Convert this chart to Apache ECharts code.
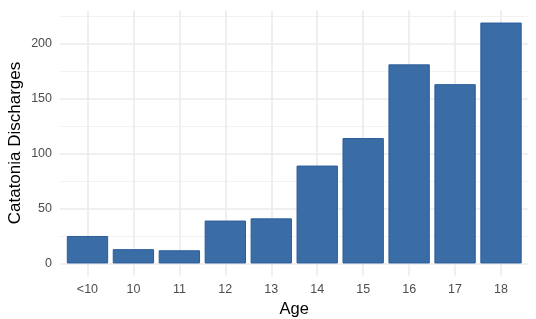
<!DOCTYPE html>
<html>
<head>
<meta charset="utf-8">
<script src="https://cdn.jsdelivr.net/npm/echarts@6/dist/echarts.min.js"></script>
<style>html,body{margin:0;padding:0;background:#fff}#c{width:536px;height:319px}</style>
</head>
<body>
<div id="c"></div>
<script>
const categories = ['<10', '10', '11', '12', '13', '14', '15', '16', '17', '18'];
const discharges = [25, 13, 12, 39, 41, 89, 114, 181, 163, 219];
const yTickStep = 50;
const yMin = -10.95, yMax = 229.95;      // panel range (with ggplot-style padding)
const gridMax = 250;                     // gridline axis: 0..250

const W = 536, H = 319;
const panelTop = 10.5, panelBottom = 275.5;
const pxPerUnit = (panelBottom - panelTop) / (yMax - yMin);
const zeroY = panelBottom - (0 - yMin) * pxPerUnit;
const gridTop0 = zeroY - gridMax * pxPerUnit;

const chart = echarts.init(document.getElementById('c'), null, {renderer: 'canvas'});
const font = 'Liberation Sans, Arial, sans-serif';
chart.setOption({
  animation: false,
  backgroundColor: '#ffffff',
  grid: [
    {left: 60, right: 8, top: gridTop0, bottom: H - zeroY, outerBoundsMode: 'none', containLabel: false},
    {left: 64.5, right: 12, top: panelTop, bottom: H - panelBottom, outerBoundsMode: 'none', containLabel: false}
  ],
  xAxis: [
    {gridIndex: 0, type: 'value', min: 0, max: 1, show: false},
    {gridIndex: 1, type: 'category', data: categories, boundaryGap: true,
     axisLine: {show: false, onZero: false}, axisTick: {show: false, alignWithLabel: true},
     axisLabel: {color: '#4d4d4d', fontSize: 12.5, fontFamily: font, margin: 8},
     splitLine: {show: true, alignWithLabel: true, lineStyle: {color: '#ebebeb', width: 1.6}},
     name: 'Age', nameLocation: 'middle', nameGap: 22,
     nameTextStyle: {color: '#000', fontSize: 16.5, fontFamily: font}}
  ],
  yAxis: [
    {gridIndex: 0, type: 'value', min: 0, max: gridMax, interval: yTickStep,
     axisLine: {show: false}, axisTick: {show: false},
     axisLabel: {color: '#4d4d4d', fontSize: 12.5, fontFamily: font, margin: 8, showMaxLabel: false,
       formatter: v => (v >= gridMax ? '' : String(v))},
     splitLine: {show: true, lineStyle: {color: '#ebebeb', width: 1.6}},
     minorTick: {show: false, splitNumber: 2},
     minorSplitLine: {show: true, lineStyle: {color: '#f2f2f2', width: 1}}},
    {gridIndex: 1, type: 'value', min: yMin, max: yMax,
     axisLine: {show: false}, axisTick: {show: false}, axisLabel: {show: false}, splitLine: {show: false},
     name: 'Catatonia Discharges', nameLocation: 'middle', nameGap: 40.5,
     nameTextStyle: {color: '#000', fontSize: 17, fontFamily: font}}
  ],
  series: [{
    type: 'bar',
    xAxisIndex: 1,
    yAxisIndex: 1,
    data: discharges,
    barCategoryGap: '10%',
    itemStyle: {color: '#3A6CA5', borderColor: '#2B5D9C', borderWidth: 1}
  }]
});
</script>
</body>
</html>
